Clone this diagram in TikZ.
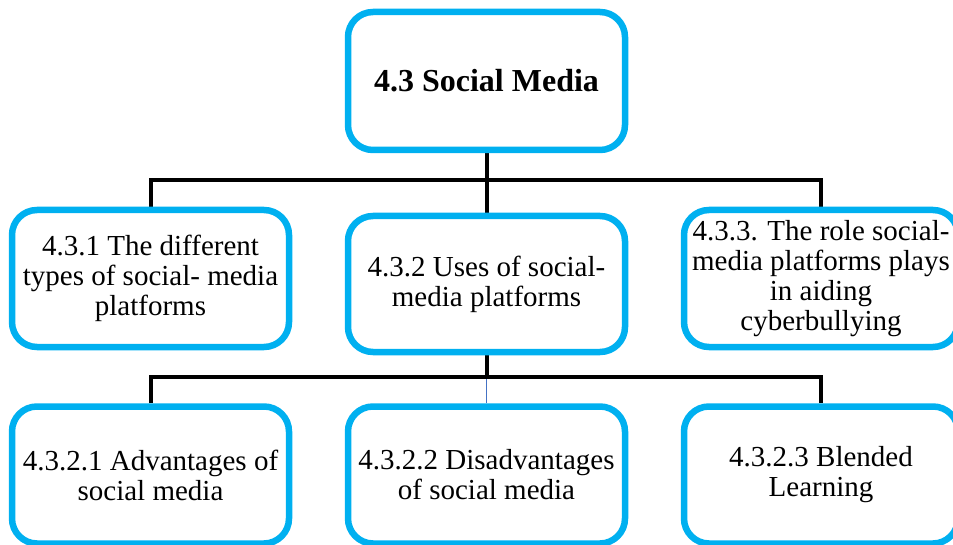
\documentclass[tikz,border=0pt]{standalone}
\usepackage{fontspec}
\setmainfont{Liberation Serif}
\usetikzlibrary{backgrounds}
\definecolor{boxblue}{HTML}{00B0F0}
\definecolor{linkblue}{HTML}{4472C4}
\tikzset{
  topic/.style={rectangle, rounded corners=25pt, draw=boxblue, line width=6.5pt,
    fill=white, inner sep=0pt, align=center,
    minimum width=277pt, minimum height=137pt,
    font=\fontsize{29}{30}\selectfont},
  headtopic/.style={topic, minimum height=138pt,
    font=\fontsize{32}{34}\selectfont\bfseries},
  conn/.style={draw=black, line width=4pt},
  thinconn/.style={draw=linkblue, line width=1.6pt}
}
\begin{document}
\begin{tikzpicture}[x=1pt,y=-1pt]
  \useasboundingbox (0,0) rectangle (953,545);
  \clip (0,0) rectangle (953,545);

  % root
  \node[headtopic] (top) at (486.5,81) {4.3 Social Media};

  % second level
  \node[topic] (l1) at (150.5,278.5) {4.3.1 The different\\types of social- media\\platforms};
  \node[topic, minimum height=136pt] (m1) at (486.5,284) {4.3.2 Uses of social-\\media platforms};
  \node[topic, minimum width=274pt] (r1) at (821,278.5) {4.3.3. The role social-\\media platforms plays\\in aiding\\cyberbullying};

  % third level
  \node[topic, minimum height=137pt] (l2) at (150.5,475) {4.3.2.1 Advantages of\\social media};
  \node[topic, minimum height=137pt] (m2) at (486.5,475) {4.3.2.2 Disadvantages\\of social media};
  \node[topic, minimum height=137pt, minimum width=274pt] (r2) at (821,475) {4.3.2.3 Blended\\Learning};

  % bus lines
  \coordinate (busA) at (486.5,180);
  \coordinate (busB) at (486.5,377);

  \begin{pgfonlayer}{background}
    \draw[conn] (top.south) -- (m1.north);
    \draw[conn] (l1.north) |- (busA) -| (r1.north);
    \draw[conn] (m1.south) -- (busB);
    \draw[thinconn] (busB) -- (m2.north);
    \draw[conn] (l2.north) |- (busB) -| (r2.north);
  \end{pgfonlayer}
\end{tikzpicture}
\end{document}
